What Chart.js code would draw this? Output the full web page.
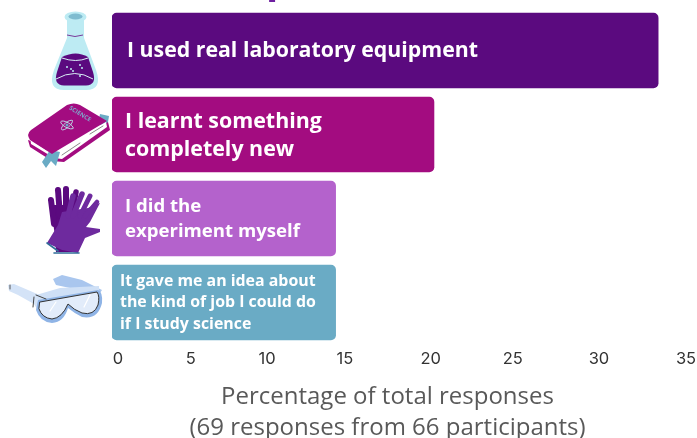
<!DOCTYPE html>
<html>
<head>
<meta charset="utf-8">
<style>html,body{margin:0;padding:0;background:#fff;overflow:hidden}canvas{display:block}</style>
<script src="https://cdn.jsdelivr.net/npm/chart.js@4"></script>
</head>
<body>
<canvas id="c" width="697" height="438"></canvas>
<script>
const categories = ['I used real laboratory equipment','I learnt something completely new','I did the experiment myself','It gave me an idea about the kind of job I could do if I study science'];
const percentages = [33.4, 20.2, 14.4, 14.4];
const barColours = ['#5B0A7F','#A30C80','#B462CC','#6AABC5'];
const barLabelLines = [
  ['I used real laboratory equipment'],
  ['I learnt something','completely new'],
  ['I did the','experiment myself'],
  ['It gave me an idea about','the kind of job I could do','if I study science']
];
const labelFontSizes = [21.3,21.4,18.6,15.9];
const labelLineGaps = [0,28,25,21.5];
const labelInsets = [15,13,13,8];
const labelNudges = [0,1,1,0];
const tickValues = [0,5,10,15,20,25,30,35];
// The reference axis has hand-placed, unevenly spaced ticks
const tickFractions = [0.0105,0.1371,0.2700,0.4059,0.5552,0.6981,0.8484,1];
const axisTitleLines = ['Percentage of total responses','(69 responses from 66 participants)'];
const croppedTitleGlyph = 'p';

class UnevenScale extends Chart.LinearScale {
  getPixelForValue(v){
    const ts = tickValues, fs = tickFractions;
    let f;
    if (v <= ts[0]) {
      const m = this.min;
      f = fs[0] * (v - m) / (ts[0] - m);
    } else {
      let i = 1;
      while (i < ts.length - 1 && v > ts[i]) i++;
      f = fs[i-1] + (fs[i]-fs[i-1]) * (v - ts[i-1]) / (ts[i]-ts[i-1]);
    }
    return this.getPixelForDecimal(f);
  }
}
UnevenScale.id = 'uneven';
UnevenScale.defaults = Chart.LinearScale.defaults;
Chart.register(UnevenScale);

function poly(ctx, pts, fill){
  ctx.beginPath();
  pts.forEach((p,i)=> i ? ctx.lineTo(p[0],p[1]) : ctx.moveTo(p[0],p[1]));
  ctx.closePath();
  ctx.fillStyle = fill; ctx.fill();
}
function stroke(ctx, pts, col, w){
  ctx.beginPath();
  pts.forEach((p,i)=> i ? ctx.lineTo(p[0],p[1]) : ctx.moveTo(p[0],p[1]));
  ctx.strokeStyle = col; ctx.lineWidth = w; ctx.lineCap='round'; ctx.lineJoin='round'; ctx.stroke();
}
function flask(ctx){
  ctx.fillStyle='#BDEBF3';
  ctx.beginPath();
  ctx.moveTo(67,18);ctx.lineTo(67,38);ctx.lineTo(54,70);
  ctx.quadraticCurveTo(47,90,64,90);ctx.lineTo(86,90);
  ctx.quadraticCurveTo(103,90,96,70);ctx.lineTo(84,38);ctx.lineTo(84,18);ctx.closePath();ctx.fill();
  ctx.beginPath();ctx.ellipse(75.5,17,11,5.5,0,0,7);ctx.fill();
  ctx.fillStyle='#7FBCD0';ctx.beginPath();ctx.ellipse(75.5,16.5,7,3,0,0,7);ctx.fill();
  ctx.strokeStyle='#7A3A9A';ctx.lineWidth=1;ctx.beginPath();ctx.moveTo(67,35);ctx.quadraticCurveTo(75,38,83,35);ctx.stroke();
  ctx.fillStyle='#5B0A7F';
  ctx.beginPath();
  ctx.moveTo(62,57);ctx.quadraticCurveTo(76,50,88,57);ctx.lineTo(93,72);
  ctx.quadraticCurveTo(97,85,86,85.5);ctx.lineTo(64,85.5);
  ctx.quadraticCurveTo(53,85,57,72);ctx.closePath();ctx.fill();
  ctx.strokeStyle='#D8EEF5';ctx.lineWidth=1;
  ctx.beginPath();ctx.moveTo(56,79);ctx.quadraticCurveTo(75,68,93,79);ctx.stroke();
  ctx.beginPath();ctx.moveTo(62,58);ctx.quadraticCurveTo(76,63,88,58);ctx.stroke();
  ctx.fillStyle='#BDEBF3';
  [[67,67],[71,69],[73,71],[80,65],[82,68],[80,76]].forEach(p=>{ctx.beginPath();ctx.arc(p[0],p[1],1,0,7);ctx.fill();});
}
function book(ctx){
  poly(ctx,[[100,114],[109,116],[107,128],[98,124]],'#6AABC5');
  poly(ctx,[[28,140],[30,147],[52,161],[64,162],[110,130],[108,122],[58,150]],'#A30C80');
  poly(ctx,[[30,137],[31,144],[54,158],[62,159],[107,127],[106,122],[58,148]],'#FFFFFF');
  poly(ctx,[[50,150],[60,152],[56,166],[51,161],[46,168],[42,162]],'#6AABC5');
  stroke(ctx,[[62,155],[80,143]],'#8A8A8A',1);
  stroke(ctx,[[35,142],[47,150]],'#8A8A8A',1);
  stroke(ctx,[[90,134],[103,126]],'#8A8A8A',1);
  ctx.fillStyle='#A30C80';
  ctx.beginPath();
  ctx.moveTo(67,105);ctx.quadraticCurveTo(74,102,80,105);ctx.lineTo(107,121);
  ctx.lineTo(60,149);ctx.quadraticCurveTo(55,152,52,154);ctx.lineTo(30,140);
  ctx.quadraticCurveTo(26,134,31,130);ctx.closePath();ctx.fill();
  ctx.save();ctx.translate(80,114);ctx.rotate(0.55);
  ctx.fillStyle='#7FA9CC';ctx.font='700 6px "Open Sans"';ctx.textAlign='center';ctx.textBaseline='middle';ctx.fillText('SCIENCE',0,0);ctx.restore();
  ctx.strokeStyle='#BDD6E6';ctx.lineWidth=1;
  ctx.beginPath();ctx.ellipse(67,125,7,2.5,0.5,0,7);ctx.stroke();
  ctx.beginPath();ctx.ellipse(67,125,7,2.5,-0.7,0,7);ctx.stroke();
  ctx.fillStyle='#6AABC5';ctx.beginPath();ctx.arc(67,125,1.5,0,7);ctx.fill();
}
function gloves(ctx){
  const d='#5B0A7F', f='#6E2A9E';
  poly(ctx,[[50,205],[78,205],[80,240],[76,252],[56,252],[55,235]],d);
  stroke(ctx,[[54,224],[51,200]],d,6);
  stroke(ctx,[[60,216],[58,190]],d,6);
  stroke(ctx,[[66,214],[66,189]],d,6);
  stroke(ctx,[[72,214],[76,192]],d,5.5);
  poly(ctx,[[47,243],[58,225],[62,212],[88,208],[100,203],[90,222],[86,227],[100,229],[100,232],[85,238],[78,253],[62,250]],f);
  stroke(ctx,[[68,216],[73,196]],f,5.5);
  stroke(ctx,[[73,216],[82,194]],f,5.5);
  stroke(ctx,[[80,216],[90,196]],f,5);
  stroke(ctx,[[85,216],[97,202]],f,4.5);
  stroke(ctx,[[47,243],[58,251]],'#2F6C98',1.6);
  stroke(ctx,[[54,253],[79,253]],'#2F6C98',1.6);
}
function goggles(ctx){
  poly(ctx,[[8,285],[14,284],[42,296],[40,314],[34,304],[18,295],[9,291]],'#D4E3F7');
  stroke(ctx,[[10,285],[10,289]],'#555',1);
  stroke(ctx,[[34,297],[33,307]],'#444',1);
  poly(ctx,[[53,279],[62,275],[82,280],[102,290],[98,296],[70,288],[56,285]],'#A9C6EE');
  poly(ctx,[[36,295],[60,288],[99,286],[99,296],[40,305]],'#CFE0F6');
  ctx.fillStyle='#8FB4E6';
  ctx.beginPath();
  ctx.moveTo(38,300);ctx.lineTo(98,290);ctx.quadraticCurveTo(103,292,102,303);
  ctx.quadraticCurveTo(98,320,82,317);ctx.quadraticCurveTo(74,313,68,308);
  ctx.quadraticCurveTo(64,322,52,323);ctx.quadraticCurveTo(40,322,36,310);ctx.closePath();ctx.fill();
  ctx.fillStyle='#E2ECFA';ctx.strokeStyle='#333';ctx.lineWidth=1;
  ctx.beginPath();
  ctx.moveTo(40,302);ctx.lineTo(97,292);ctx.quadraticCurveTo(100,296,98,305);
  ctx.quadraticCurveTo(94,316,82,313);ctx.quadraticCurveTo(74,310,68,304);
  ctx.quadraticCurveTo(62,318,52,319);ctx.quadraticCurveTo(42,318,39,309);ctx.closePath();ctx.fill();ctx.stroke();
  stroke(ctx,[[36,295],[46,299]],'#444',1);
  stroke(ctx,[[50,311],[56,302]],'#FFFFFF',1.2);
  stroke(ctx,[[84,307],[90,295]],'#FFFFFF',1.2);
}

const decorations = {
  id:'decorations',
  afterDatasetsDraw(chart){
    const ctx = chart.ctx, y = chart.scales.y, meta = chart.getDatasetMeta(0);
    const refCentres = [50.5,134.5,218.5,302.5];
    [flask,book,gloves,goggles].forEach((draw,i)=>{
      ctx.save();
      ctx.translate(0, y.getPixelForTick(i) - refCentres[i]);
      draw(ctx);
      ctx.restore();
    });
    ctx.save();
    ctx.fillStyle='#fff';ctx.textAlign='left';ctx.textBaseline='middle';
    barLabelLines.forEach((lines,i)=>{
      const bar = meta.data[i];
      const gap = labelLineGaps[i];
      ctx.font = '700 '+labelFontSizes[i]+'px "Open Sans"';
      lines.forEach((t,k)=>{
        ctx.fillText(t, bar.base + labelInsets[i], bar.y + labelNudges[i] + (k-(lines.length-1)/2)*gap);
      });
    });
    ctx.fillStyle='#595959';ctx.textAlign='center';ctx.font='400 24px "Open Sans"';
    axisTitleLines.forEach((t,k)=>ctx.fillText(t,387.5,397+k*31));
    ctx.fillStyle='#6E1FA0';ctx.font='700 40px "Open Sans"';ctx.textAlign='left';ctx.textBaseline='alphabetic';
    ctx.fillText(croppedTitleGlyph,266,-7);
    ctx.restore();
  }
};

new Chart(document.getElementById('c'),{
  type:'bar',
  data:{labels:categories,datasets:[{
    data:percentages,backgroundColor:barColours,borderRadius:5,borderSkipped:false,
    barThickness:75,base:-0.4
  }]},
  options:{
    indexAxis:'y',responsive:false,animation:false,
    layout:{padding:{left:112,right:11,top:8.5,bottom:0}},
    plugins:{legend:{display:false},tooltip:{enabled:false},title:{display:false}},
    scales:{
      x:{type:'uneven',position:'bottom',min:-0.4,max:35,
        grid:{display:false,drawTicks:false},border:{display:false},
        afterBuildTicks(s){s.ticks=tickValues.map(v=>({value:v}));},
        afterFit(s){s.height=93.5;s.paddingLeft=0;s.paddingRight=0;},
        ticks:{autoSkip:false,maxRotation:0,padding:5,color:'#333',font:{family:'Inter',size:16.5}}
      },
      y:{type:'category',display:true,
        grid:{display:false,drawTicks:false},border:{display:false},
        ticks:{display:false},afterFit(s){s.width=0;}
      }
    }
  },
  plugins:[decorations]
});
</script>
</body>
</html>
